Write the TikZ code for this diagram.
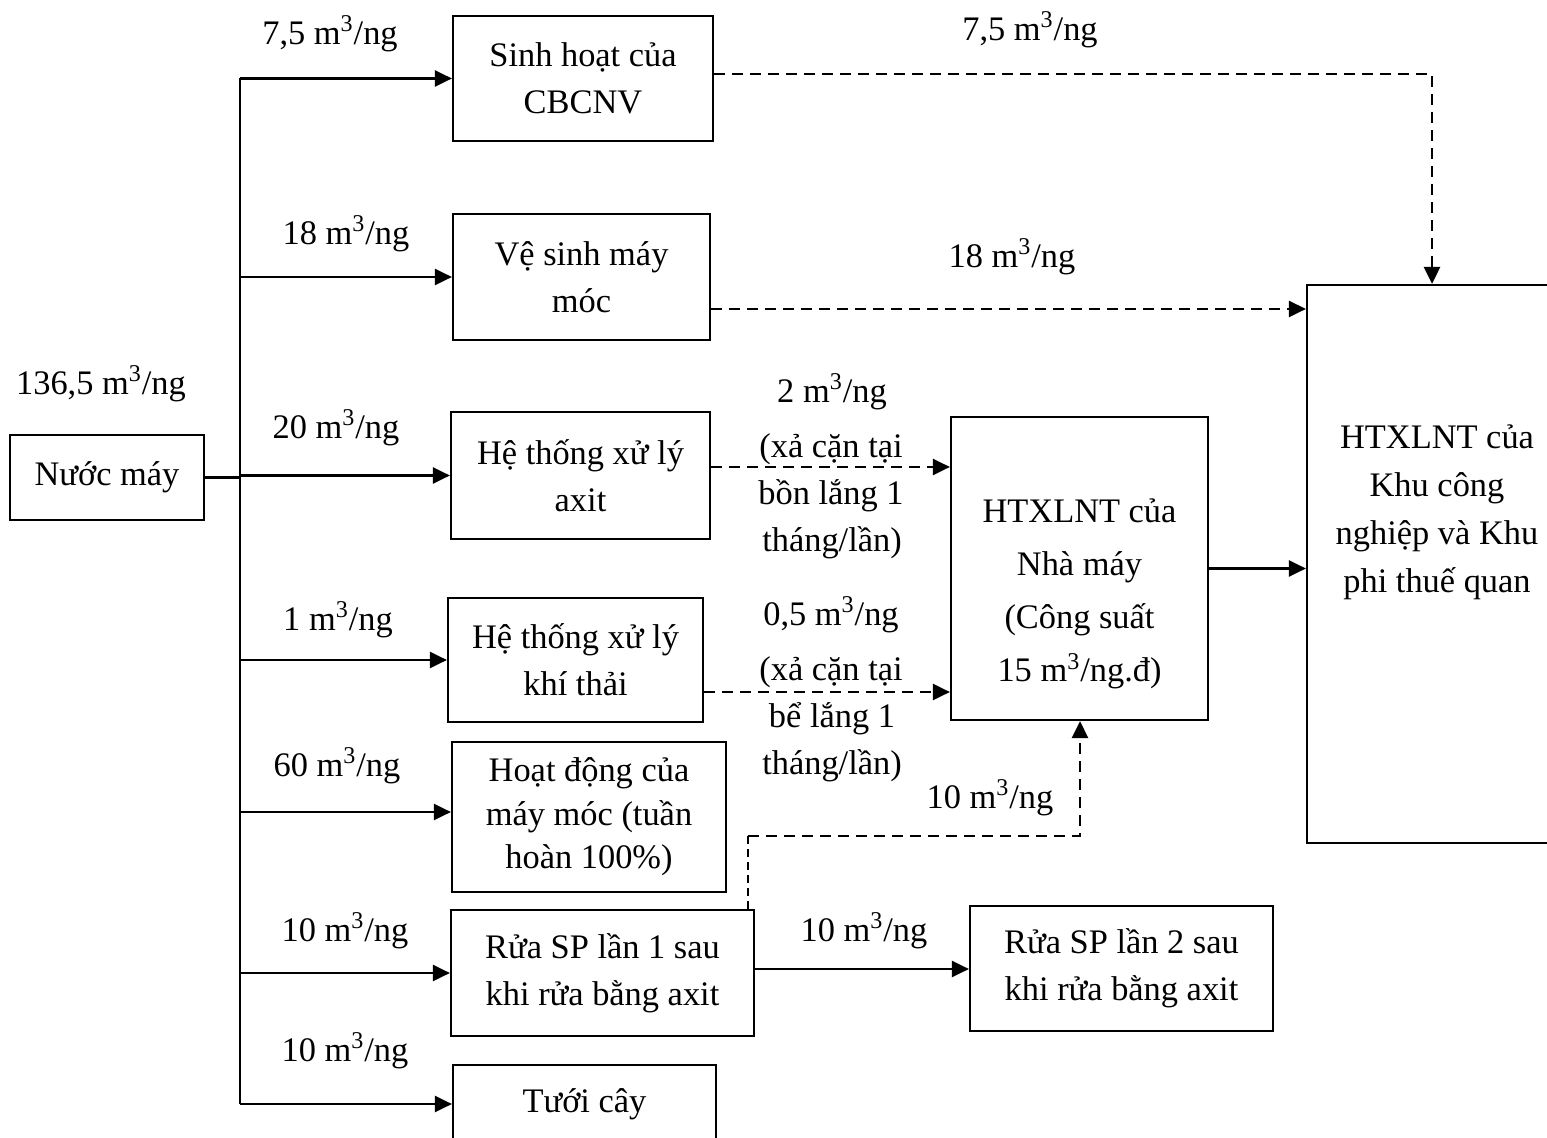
\documentclass[tikz,border=0pt]{standalone}
\usepackage{fontspec}
\setmainfont{Liberation Serif}
\usetikzlibrary{arrows.meta}
\newcommand{\mq}{m\textsuperscript{3}/ng}
\begin{document}
\begin{tikzpicture}[x=0.5pt,y=-0.5pt,
  font=\fontsize{17.2}{23.5}\selectfont,
  box/.style={draw, line width=1.1pt, inner sep=0pt, align=center},
  lbl/.style={inner sep=0pt, align=center},
  solidline/.style={line width=1.2pt},
  arr/.style={line width=1.2pt, -{Triangle[length=8.5pt,width=8pt]}},
  darr/.style={line width=1.4pt, dash pattern=on 5.5pt off 3.5pt, -{Triangle[length=8.5pt,width=8pt]}},
  thindash/.style={line width=0.9pt, dash pattern=on 4pt off 2.5pt}
]
\useasboundingbox (0,0) rectangle (1547,1138);
\clip (0,0) rectangle (1547,1138);

% boxes
\node[box, minimum width=97pt, minimum height=42.5pt] (nuoc) at (107,477.5) {Nước máy};
\node[box, minimum width=130pt, minimum height=62.5pt] (sh) at (583,78.5) {Sinh hoạt của\\CBCNV};
\node[box, minimum width=128.5pt, minimum height=63pt] (vs) at (581.5,277) {Vệ sinh máy\\móc};
\node[box, minimum width=129.5pt, minimum height=63.5pt] (ax) at (580.5,475.5) {Hệ thống xử lý\\axit};
\node[box, minimum width=127.5pt, minimum height=62pt] (kt) at (575.5,660) {Hệ thống xử lý\\khí thải};
\node[box, minimum width=137pt, minimum height=75pt, font=\fontsize{17.2}{21.75}\selectfont] (hd) at (589,817) {Hoạt động của\\máy móc (tuần\\hoàn 100\%)};
\node[box, minimum width=151.5pt, minimum height=63pt] (r1) at (602.5,973) {Rửa SP lần 1 sau\\khi rửa bằng axit};
\node[box, minimum width=131.5pt, minimum height=39pt] (tc) at (584.5,1104) {Tưới cây};
\node[box, minimum width=151.5pt, minimum height=62.5pt] (r2) at (1121.5,968.5) {Rửa SP lần 2 sau\\khi rửa bằng axit};
\node[box, minimum width=128.5pt, minimum height=151.5pt] (nm) at (1079.5,568.5) {};
\node[lbl, font=\fontsize{17.2}{26.5}\selectfont] (nmtext) at (1079.5,594) {HTXLNT của\\Nhà máy\\(Công suất\\15 \mq.đ)};
\node[box, minimum width=130pt, minimum height=279pt] (kcn) at (1437,564) {};
\node[lbl, font=\fontsize{17.2}{24}\selectfont] (kcntext) at (1437,512) {HTXLNT của\\Khu công\\nghiệp và Khu\\phi thuế quan};

% labels
\node[lbl] (l1) at (330,34) {7,5 \mq};
\node[lbl] (l2) at (346,234) {18 \mq};
\node[lbl] (l0) at (101,384) {136,5 \mq};
\node[lbl] (l3) at (336,428) {20 \mq};
\node[lbl] (l4) at (338,620) {1 \mq};
\node[lbl] (l5) at (337,766) {60 \mq};
\node[lbl] (l6) at (345,931) {10 \mq};
\node[lbl] (l7) at (345,1051) {10 \mq};
\node[lbl] (r_l1) at (1030,30) {7,5 \mq};
\node[lbl] (r_l2) at (1012,257) {18 \mq};
\node[lbl] (a1) at (832,392) {2 \mq};
\node[lbl] (a2) at (831,449) {(xả cặn tại};
\node[lbl] (a3) at (831,496) {bồn lắng 1};
\node[lbl] (a4) at (832,543) {tháng/lần)};
\node[lbl] (b1) at (831,615) {0,5 \mq};
\node[lbl] (b2) at (831,672) {(xả cặn tại};
\node[lbl] (b3) at (832,719) {bể lắng 1};
\node[lbl] (b4) at (832,766) {tháng/lần)};
\node[lbl] (c1) at (990,798) {10 \mq};
\node[lbl] (c2) at (864,931) {10 \mq};

% trunk
\coordinate (ttop) at (240,78);
\coordinate (tbot) at (240,1104);
\draw[solidline] (ttop) -- (tbot);
\draw[solidline] (nuoc.east) -- (ttop |- nuoc.east);

% branches
\draw[arr] (ttop |- sh.west) -- (sh.west);
\draw[arr] (ttop |- vs.west) -- (vs.west);
\draw[arr] (ttop |- ax.west) -- (ax.west);
\draw[arr] (ttop |- kt.west) -- (kt.west);
\draw[arr] (ttop |- 0,812) -- (hd.west |- 0,812);
\draw[arr] (ttop |- r1.west) -- (r1.west);
\draw[arr] (ttop |- tc.west) -- (tc.west);

% dashed flows
\draw[darr] (sh.east |- 0,74) -| ([xshift=-2.5pt]kcn.north);
\draw[darr] (vs.east |- 0,309) -- (kcn.west |- 0,309);
\draw[darr] (ax.east |- 0,467) -- (nm.west |- 0,467);
\draw[darr] (kt.east |- 0,692) -- (nm.west |- 0,692);
\coordinate (bend1) at (748,836);
\coordinate (bend2) at (1080,836);
\draw[thindash] (r1.north -| bend1) -- (bend1);
\draw[darr] (bend1) -- (bend2) -- (nm.south -| bend2);

% solid flows
\draw[arr] (nm.east) -- (kcn.west |- nm.east);
\draw[arr] (r1.east |- 0,969) -- (r2.west |- 0,969);
\end{tikzpicture}
\end{document}
